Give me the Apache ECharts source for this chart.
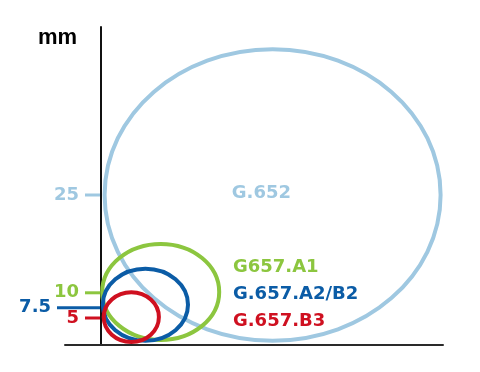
<!DOCTYPE html>
<html>
<head>
<meta charset="utf-8">
<script src="https://cdn.jsdelivr.net/npm/echarts@6/dist/echarts.min.js"></script>
<style>
html,body{margin:0;padding:0;background:#fff;}
#main{width:480px;height:372px;}
</style>
</head>
<body>
<div id="main"></div>
<script>
// 光纤型号
var fiberNames = ['G.652', 'G657.A1', 'G.657.A2/B2', 'G.657.B3'];
var fiberColors = ['#9fc8e1', '#8cc63f', '#0b5ca6', '#cf1020'];
// 椭圆中心和半轴 (坐标轴单位)
var centerX = [28.6, 9.95, 7.4, 5.05];
var centerY = [25.0, 8.85, 6.7, 4.65];
var radiusX = [28.0, 9.75, 7.1, 4.6];
var radiusY = [24.3, 8.0, 6.0, 4.15];
// 名称位置
var nameX = [21.8, 22.0, 22.0, 22.0];
var nameY = [25.2, 13.0, 8.45, 4.0];
// 弯曲半径刻度
var tickText = ['25', '10', '7.5', '5'];
var tickValue = [25, 8.7, 6.2, 4.5];

var myChart = echarts.init(document.getElementById('main'));

var ellipseData = [];
var nameData = [];
var tickData = [];
for (var i = 0; i < fiberNames.length; i++) {
	ellipseData.push([centerX[i], centerY[i], radiusX[i], radiusY[i], i]);
	nameData.push([nameX[i], nameY[i], i]);
	tickData.push([0, tickValue[i], i]);
}

var option = {
	animation: false,
	grid: { left: 65, right: 37, top: 27, bottom: 27 },
	xAxis: {
		type: 'value', min: -6, max: 57,
		axisLine: { onZero: true, lineStyle: { color: '#2a2a2a', width: 2 } },
		axisTick: { show: false }, axisLabel: { show: false }, splitLine: { show: false }
	},
	yAxis: {
		type: 'value', min: 0, max: 53,
		axisLine: { onZero: true, lineStyle: { color: '#111', width: 2 } },
		axisTick: { show: false }, axisLabel: { show: false }, splitLine: { show: false }
	},
	graphic: [{
		type: 'text', left: 38, top: 27,
		style: { text: 'mm', font: 'bold 22px "Liberation Sans"', fill: '#000' }
	}],
	series: [{
		// 椭圆
		type: 'custom',
		data: ellipseData,
		z: 1,
		renderItem: function(params, api) {
			var c = api.coord([api.value(0), api.value(1)]);
			var s = api.size([api.value(2), api.value(3)]);
			return {
				type: 'ellipse',
				shape: { cx: c[0], cy: c[1], rx: s[0], ry: s[1] },
				style: { fill: 'none', stroke: fiberColors[api.value(4)], lineWidth: 4 }
			};
		}
	}, {
		// 名称
		type: 'custom',
		data: nameData,
		z: 3,
		renderItem: function(params, api) {
			var c = api.coord([api.value(0), api.value(1)]);
			var k = api.value(2);
			return {
				type: 'text',
				x: c[0], y: c[1],
				style: {
					text: fiberNames[k], fill: fiberColors[k],
					font: 'bold 18px "DejaVu Sans"', textAlign: 'left', textVerticalAlign: 'middle'
				}
			};
		}
	}, {
		// 刻度
		type: 'custom',
		data: tickData,
		z: 3,
		renderItem: function(params, api) {
			var c = api.coord([api.value(0), api.value(1)]);
			var k = api.value(2);
			var len = k == 2 ? 44 : 16;
			return {
				type: 'group',
				children: [{
					type: 'line',
					shape: { x1: c[0] - len, y1: c[1], x2: c[0] - 1, y2: c[1] },
					style: { stroke: fiberColors[k], lineWidth: 3 }
				}, {
					type: 'text',
					x: c[0] - len - 6, y: c[1],
					style: {
						text: tickText[k], fill: fiberColors[k],
						font: 'bold 18px "DejaVu Sans"', textAlign: 'right', textVerticalAlign: 'middle'
					}
				}]
			};
		}
	}]
};
myChart.setOption(option);
</script>
</body>
</html>
